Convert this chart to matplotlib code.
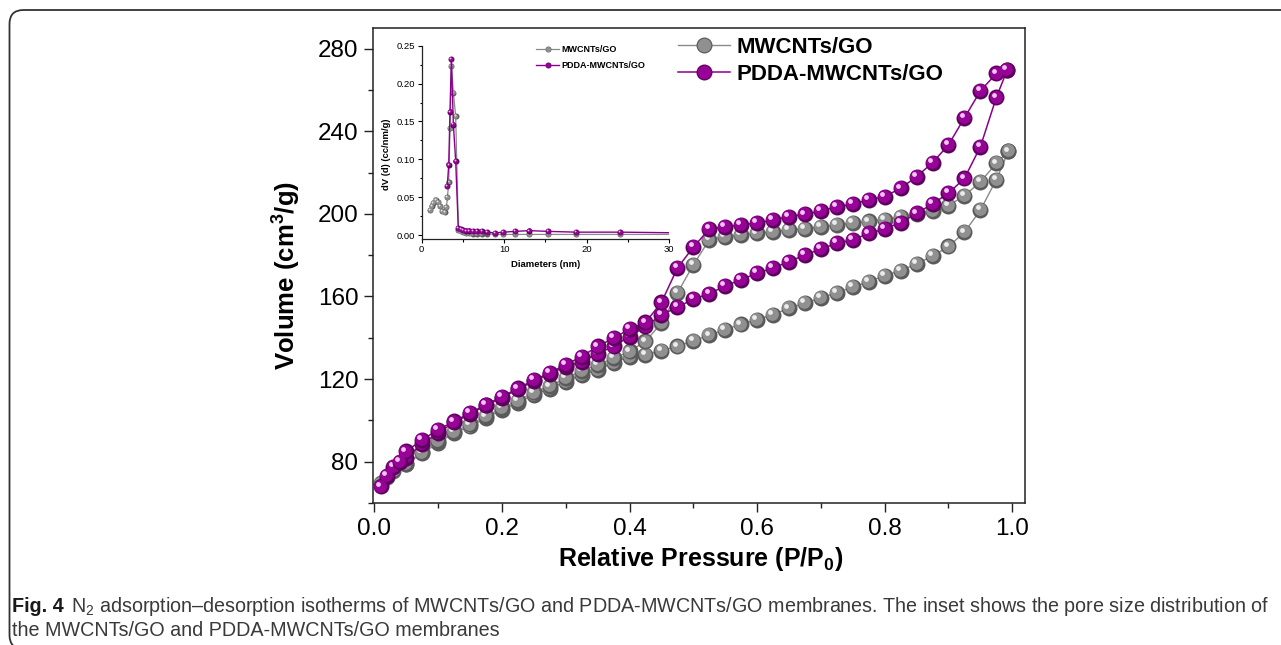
import matplotlib
matplotlib.use('Agg')
import matplotlib.pyplot as plt
import matplotlib.transforms as mtransforms
import matplotlib.patches as mpatches
from matplotlib.lines import Line2D
from matplotlib.legend_handler import HandlerTuple
from matplotlib.ticker import MultipleLocator

plt.rcParams['font.family'] = ['Liberation Sans', 'DejaVu Sans']
plt.rcParams['mathtext.fontset'] = 'custom'
plt.rcParams['mathtext.rm'] = 'Liberation Sans'
plt.rcParams['mathtext.bf'] = 'Liberation Sans:bold'
plt.rcParams['mathtext.it'] = 'Liberation Sans:italic'

# ---------------- main isotherms (P/P0, cm3/g) ----------------
mw_ads_p = [0.01, 0.02, 0.03, 0.05, 0.075, 0.1, 0.125, 0.15, 0.175, 0.2, 0.225, 0.25, 0.275, 0.3,
            0.325, 0.35, 0.375, 0.4, 0.425, 0.45, 0.475, 0.5, 0.525, 0.55, 0.575, 0.6, 0.625, 0.65,
            0.675, 0.7, 0.725, 0.75, 0.775, 0.8, 0.825, 0.85, 0.875, 0.9, 0.925, 0.95, 0.975, 0.994]
mw_ads_v = [69.5, 72.5, 75.5, 79.0, 84.0, 89.0, 93.9, 97.1, 101.1, 105.2, 108.5, 112.5, 115.4, 118.8,
            122.1, 124.5, 128.0, 130.9, 131.8, 133.8, 135.8, 138.5, 141.2, 144.0, 146.5, 148.8, 151.2, 154.3,
            156.8, 159.2, 161.9, 164.5, 167.2, 170.0, 172.5, 175.8, 179.5, 184.2, 191.1, 201.8, 216.6, 230.3]
mw_des_p = [0.994, 0.975, 0.95, 0.925, 0.9, 0.875, 0.85, 0.825, 0.8, 0.775, 0.75, 0.725, 0.7, 0.675,
            0.65, 0.625, 0.6, 0.575, 0.55, 0.525, 0.5, 0.475, 0.45, 0.425, 0.4, 0.375, 0.35, 0.325,
            0.3, 0.275, 0.25, 0.225, 0.2, 0.175, 0.15, 0.125, 0.1, 0.075, 0.05]
mw_des_v = [230.3, 224.5, 215.5, 208.8, 204.0, 201.5, 200.0, 198.5, 197.2, 196.3, 195.5, 194.7, 193.8, 192.8,
            192.2, 191.4, 190.6, 189.8, 189.0, 187.4, 175.3, 161.6, 147.1, 138.2, 133.4, 130.1, 126.9, 124.0,
            120.5, 116.5, 113.5, 109.5, 106.0, 102.0, 98.0, 94.5, 90.0, 84.5, 79.0]

pd_ads_p = [0.01, 0.02, 0.03, 0.05, 0.075, 0.1, 0.125, 0.15, 0.175, 0.2, 0.225, 0.25, 0.275, 0.3,
            0.325, 0.35, 0.375, 0.4, 0.425, 0.45, 0.475, 0.5, 0.525, 0.55, 0.575, 0.6, 0.625, 0.65,
            0.675, 0.7, 0.725, 0.75, 0.775, 0.8, 0.825, 0.85, 0.875, 0.9, 0.925, 0.95, 0.975, 0.992]
pd_ads_v = [68.0, 73.0, 77.5, 82.0, 88.5, 94.0, 99.0, 103.0, 107.3, 111.0, 115.0, 119.0, 122.6, 126.0,
            128.5, 132.3, 135.8, 140.6, 145.5, 151.1, 154.8, 158.7, 161.3, 165.1, 168.1, 171.3, 173.7, 176.9,
            180.1, 182.9, 185.8, 187.4, 190.6, 192.6, 195.8, 200.3, 204.8, 210.0, 217.2, 232.5, 256.4, 269.6]
pd_des_p = [0.992, 0.975, 0.95, 0.925, 0.9, 0.875, 0.85, 0.825, 0.8, 0.775, 0.75, 0.725, 0.7, 0.675,
            0.65, 0.625, 0.6, 0.575, 0.55, 0.525, 0.5, 0.475, 0.45, 0.425, 0.4, 0.375, 0.35, 0.325,
            0.3, 0.275, 0.25, 0.225, 0.2, 0.175, 0.15, 0.125, 0.1, 0.075, 0.05, 0.04]
pd_des_v = [269.6, 268.0, 259.5, 246.5, 233.4, 224.8, 218.0, 212.4, 208.4, 206.8, 204.7, 203.5, 201.4, 199.8,
            198.7, 197.1, 195.5, 194.7, 193.8, 192.6, 183.9, 173.7, 157.1, 147.4, 144.2, 139.8, 135.8, 130.9,
            127.0, 123.0, 119.5, 115.5, 111.5, 107.6, 103.6, 99.5, 95.5, 90.6, 85.0, 80.0]

# ---------------- inset: pore size distribution ----------------
mw_d = [1.0, 1.2, 1.4, 1.7, 2.0, 2.2, 2.5, 2.8, 3.0, 3.12, 3.28, 3.43, 3.6, 3.84, 4.12, 4.45,
        4.73, 5.05, 5.37, 5.77, 6.19, 6.67, 7.28, 7.96, 8.89, 9.9, 11.3, 13.05, 15.36, 18.72, 24.06, 32.0]
mw_dv = [0.033, 0.038, 0.043, 0.047, 0.044, 0.038, 0.032, 0.030, 0.037, 0.050, 0.070, 0.141, 0.223, 0.188, 0.157, 0.007,
         0.005, 0.004, 0.003, 0.003, 0.002, 0.002, 0.002, 0.002, 0.001, 0.001, 0.001, 0.001, 0.001, 0.001, 0.001, 0.001]
pd_d = [3.1, 3.28, 3.43, 3.6, 3.84, 4.12, 4.44, 4.73, 5.05, 5.37, 5.77, 6.19, 6.67, 7.28, 7.96, 8.89,
        9.9, 11.3, 13.05, 15.36, 18.72, 24.06, 32.0]
pd_dv = [0.065, 0.093, 0.163, 0.232, 0.146, 0.098, 0.009, 0.008, 0.007, 0.006, 0.006, 0.005, 0.005, 0.005, 0.004, 0.003,
         0.004, 0.005, 0.006, 0.005, 0.004, 0.004, 0.003]

labels = ['MWCNTs/GO', 'PDDA-MWCNTs/GO']
caption_1 = ('N$_2$ adsorption\u2013desorption isotherms of MWCNTs/GO and PDDA-MWCNTs/GO membranes. '
             'The inset shows the pore size distribution of')
caption_2 = 'the MWCNTs/GO and PDDA-MWCNTs/GO membranes'

gray = dict(line='#8a8a8a', dark='#5a5a5a', mid='#909090', light='#ececec')
purple = dict(line='#8b008b', dark='#5e005e', mid='#960396', light='#f3c6f3')

fig = plt.figure(figsize=(12.81, 6.45), dpi=100)

# rounded frame around the whole figure panel
frame = mpatches.FancyBboxPatch((9.5, -4), 1300, 639, boxstyle='round,pad=0,rounding_size=14',
                                transform=mtransforms.IdentityTransform(), facecolor='none',
                                edgecolor='#333333', linewidth=1.3, clip_on=False)
fig.patches.append(frame)

ax = fig.add_axes([0.2912, 0.2202, 0.5090, 0.7364])


def balls(axis, x, y, c, ms, lw):
    # shaded "sphere" markers: dark rim, body, small highlight up-left
    def shift(dx, dy):
        return axis.transData + mtransforms.ScaledTranslation(dx / 72, dy / 72, fig.dpi_scale_trans)
    axis.plot(x, y, '-', color=c['line'], lw=lw, marker='o', ms=ms, mfc=c['dark'], mec=c['dark'], mew=0)
    axis.plot(x, y, ' ', marker='o', ms=ms * 0.8, mfc=c['mid'], mec='none',
              transform=shift(-ms * 0.05, ms * 0.05))
    axis.plot(x, y, ' ', marker='o', ms=ms * 0.3, mfc=c['light'], mec='none',
              transform=shift(-ms * 0.17, ms * 0.17))


balls(ax, mw_ads_p, mw_ads_v, gray, 11.5, 1.0)
balls(ax, mw_des_p, mw_des_v, gray, 11.5, 1.0)
balls(ax, pd_ads_p, pd_ads_v, purple, 11.5, 1.1)
balls(ax, pd_des_p, pd_des_v, purple, 11.5, 1.1)

ax.set_xlim(-0.002, 1.02)
ax.set_ylim(60, 290)
ax.xaxis.set_minor_locator(MultipleLocator(0.1))
ax.yaxis.set_minor_locator(MultipleLocator(20))
ax.set_xticks([0.0, 0.2, 0.4, 0.6, 0.8, 1.0])
ax.set_xticklabels(['0.0', '0.2', '0.4', '0.6', '0.8', '1.0'])
ax.set_yticks([80, 120, 160, 200, 240, 280])
ax.tick_params(which='major', direction='out', length=6.5, width=1.0, labelsize=17.5, pad=4, color='#222222')
ax.tick_params(which='minor', direction='out', length=3.5, width=1.0, color='#222222')
for s in ax.spines.values():
    s.set_linewidth(1.1)
    s.set_color('#222222')
ax.set_xlabel(r'Relative Pressure (P/P$_{\mathbf{0}}$)', fontsize=18, fontweight='bold')
ax.set_ylabel(r'Volume (cm$^{\mathbf{3}}$/g)', fontsize=18.5, fontweight='bold')
ax.xaxis.set_label_coords(0.502, -0.088)
ax.yaxis.set_label_coords(-0.107, 0.48)


def handle(c, ms, lw):
    return (Line2D([], [], color=c['line'], lw=lw, marker='o', ms=ms, mfc=c['dark'], mec=c['dark'], mew=0),
            Line2D([], [], ls='', marker='o', ms=ms * 0.85, mfc=c['mid'], mec='none'))


fig.legend([handle(gray, 11.5, 1.0), handle(purple, 11.5, 1.1)], labels,
           handler_map={tuple: HandlerTuple(ndivide=1, pad=0)},
           loc='upper left', bbox_to_anchor=(678 / 1281, 1 - 37 / 645), frameon=False,
           borderpad=0, borderaxespad=0, handlelength=2.35, handletextpad=0.3,
           labelspacing=0.26, prop={'weight': 'bold', 'size': 16})

# ---------------- inset ----------------
ins = fig.add_axes([0.3292, 0.6295, 0.1931, 0.2997])
ins.set_facecolor('white')

balls(ins, mw_d, mw_dv, gray, 4.3, 0.9)
balls(ins, pd_d, pd_dv, purple, 4.3, 1.0)
ins.set_xlim(0, 30)
ins.set_ylim(-0.005, 0.25)
ins.spines['top'].set_visible(False)
ins.spines['right'].set_visible(False)
for s in ['left', 'bottom']:
    ins.spines[s].set_linewidth(0.9)
    ins.spines[s].set_color('#222222')
ins.set_xticks([0, 10, 20, 30])
ins.xaxis.set_minor_locator(MultipleLocator(5))
ins.set_yticks([0.0, 0.05, 0.10, 0.15, 0.20, 0.25])
ins.set_yticklabels(['0.00', '0.05', '0.10', '0.15', '0.20', '0.25'])
ins.yaxis.set_minor_locator(MultipleLocator(0.025))
ins.tick_params(which='major', direction='out', length=3, width=0.8, labelsize=6.8, pad=1.5)
ins.tick_params(which='minor', direction='out', length=1.8, width=0.8)
ins.set_xlabel('Diameters (nm)', fontsize=6.8, fontweight='bold')
ins.set_ylabel('dV (d) (cc/nm/g)', fontsize=6.8, fontweight='bold')
ins.xaxis.set_label_coords(0.5, -0.11)
ins.yaxis.set_label_coords(-0.125, 0.44)

fig.legend([handle(gray, 4.3, 0.9), handle(purple, 4.3, 1.0)], labels,
           handler_map={tuple: HandlerTuple(ndivide=1, pad=0)},
           loc='upper left', bbox_to_anchor=(536 / 1281, 1 - 45 / 645), frameon=False,
           borderpad=0, borderaxespad=0, handlelength=2.6, handletextpad=0.25,
           labelspacing=0.75, prop={'weight': 'bold', 'size': 6.5})

# ---------------- caption ----------------
cap = fig.text(12 / 1281, 1 - 606 / 645, 'Fig. 4', fontsize=14.2, fontweight='bold', color='#1a1a1a',
               va='center', ha='left')
fig.add_artist(matplotlib.text.Annotation(caption_1, xy=(1, 0.5), xycoords=cap, xytext=(5, 0),
                                          textcoords='offset points', fontsize=14.2, color='#3a3a3a',
                                          va='center', ha='left', annotation_clip=False))
fig.text(12 / 1281, 1 - 630 / 645, caption_2, fontsize=14.2, color='#3a3a3a', va='center', ha='left')

fig.savefig('out.png', dpi=100)
